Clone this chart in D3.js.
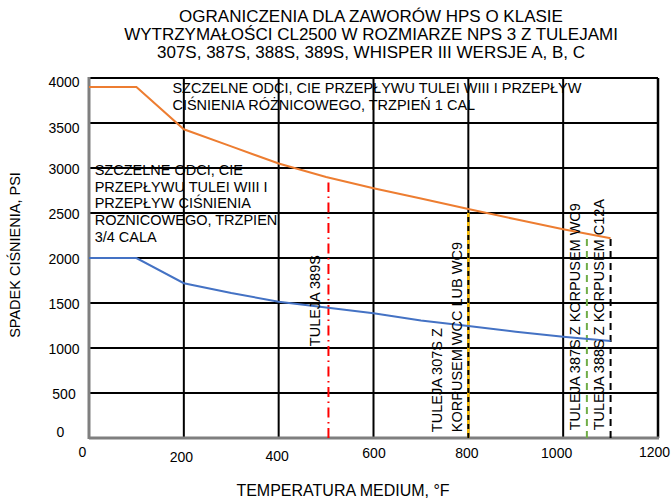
<!DOCTYPE html>
<html>
<head>
<meta charset="utf-8">
<script src="https://cdn.jsdelivr.net/npm/d3@7"></script>
<style>
  body { margin: 0; background: #fff; }
  text { font-family: "Liberation Sans", Arial, sans-serif; fill: #000; }
</style>
</head>
<body>
<script>
// chart values
var temps = [0, 100, 200, 300, 400, 500, 600, 700, 800, 900, 1000, 1100];
var trimOneInch = [3900, 3900, 3430, 3240, 3050, 2900, 2775, 2660, 2545, 2430, 2320, 2220];
var trimThreeQuarter = [2000, 2000, 1720, 1610, 1515, 1450, 1385, 1305, 1245, 1180, 1125, 1078];
var limitTemps = [505, 800, 1050, 1100];
var limitTops = [2840, 2510, 2255, 2222];
var xTicks = [0, 200, 400, 600, 800, 1000, 1200];
var yTicks = [0, 500, 1000, 1500, 2000, 2500, 3000, 3500, 4000];

var titleLines = ['OGRANICZENIA DLA ZAWORÓW HPS O KLASIE',
  'WYTRZYMAŁOŚCI CL2500 W ROZMIARZE NPS 3 Z TULEJAMI',
  '307S, 387S, 388S, 389S, WHISPER III WERSJE A, B, C'];
var upperNote = ['SZCZELNE ODCI, CIE PRZEPŁYWU TULEI WIII I PRZEPŁYW',
  'CIŚNIENIA RÓŻNICOWEGO, TRZPIEŃ 1 CAL'];
var lowerNote = ['SZCZELNE ODCI, CIE', 'PRZEPŁYWU TULEI WIII I', 'PRZEPŁYW CIŚNIENIA',
  'RÓŻNICOWEGO, TRZPIEŃ', '3/4 CALA'];
var limitLabels = [['TULEJA 389S'], ['TULEJA 307S Z', 'KORPUSEM WCC LUB WC9'],
  ['TULEJA 387S Z KORPUSEM WC9'], ['TULEJA 388S Z KORPUSEM C12A']];

(function() {
  var width = 671, height = 500;
  var margin = {top: 78, right: 13, bottom: 62, left: 89};

  var svg = d3.select('body').append('svg')
    .attr('width', width)
    .attr('height', height);

  var x = d3.scaleLinear().domain([0, 1200]).range([margin.left, width - margin.right]);
  var y = d3.scaleLinear().domain([0, 4000]).range([height - margin.bottom, margin.top]);

  // title
  svg.append('text')
    .attr('text-anchor', 'middle')
    .style('font-size', '17px')
    .selectAll('tspan')
    .data(titleLines)
    .enter().append('tspan')
      .attr('x', 371)
      .attr('y', function(d, i) { return 22 + i * 18; })
      .text(function(d) { return d; });

  // grid
  svg.append('g').selectAll('line')
    .data(yTicks.slice(1, -1))
    .enter().append('line')
      .attr('x1', x(0)).attr('x2', x(1200))
      .attr('y1', function(d) { return y(d); })
      .attr('y2', function(d) { return y(d); })
      .attr('stroke', '#000').attr('stroke-width', 2);

  svg.append('g').selectAll('line')
    .data(xTicks.slice(1, -1))
    .enter().append('line')
      .attr('y1', y(0)).attr('y2', y(4000))
      .attr('x1', function(d) { return x(d); })
      .attr('x2', function(d) { return x(d); })
      .attr('stroke', '#000').attr('stroke-width', 2);

  // frame: top/right black, left/bottom gray axes
  svg.append('line').attr('x1', x(0)).attr('x2', x(1200)).attr('y1', y(4000)).attr('y2', y(4000))
    .attr('stroke', '#000').attr('stroke-width', 2);
  svg.append('line').attr('x1', x(1200)).attr('x2', x(1200)).attr('y1', y(0)).attr('y2', y(4000))
    .attr('stroke', '#000').attr('stroke-width', 2.5);

  // axes (labels only) - the original labels sit a little unevenly
  var xTickShift = {0: [-7, -1], 200: [-3, 4], 400: [-2, 3], 600: [0, 0], 800: [-2, 0], 1000: [-7, 0], 1200: [-4, -1]};
  var xAxis = svg.append('g')
    .attr('transform', 'translate(0,' + y(0) + ')')
    .call(d3.axisBottom(x).tickValues(xTicks).tickSize(0).tickPadding(10).tickFormat(d3.format('d')));
  xAxis.select('.domain').remove();
  xAxis.selectAll('text')
    .style('font-size', '14px').style('font-family', '"Liberation Sans", Arial, sans-serif')
    .attr('fill', '#000')
    .attr('dx', function(d) { return xTickShift[d][0]; })
    .attr('dy', function(d) { return 10 + xTickShift[d][1]; });

  var yTickShift = {0: [-3.5, -7], 4000: [0, 3], 3500: [0, 4]};
  var yAxis = svg.append('g')
    .attr('transform', 'translate(' + x(0) + ',0)')
    .call(d3.axisLeft(y).tickValues(yTicks).tickSize(0).tickPadding(25).tickFormat(d3.format('d')));
  yAxis.select('.domain').remove();
  yAxis.selectAll('text')
    .style('font-size', '14px').style('font-family', '"Liberation Sans", Arial, sans-serif')
    .attr('fill', '#000')
    .attr('text-anchor', 'middle')
    .attr('dx', function(d) { return yTickShift[d] ? yTickShift[d][0] : 0; })
    .attr('dy', function(d) { return 5 + (yTickShift[d] ? yTickShift[d][1] : 0); });

  svg.append('line').attr('x1', x(0)).attr('x2', x(0)).attr('y1', y(0) + 1).attr('y2', y(4000) - 1)
    .attr('stroke', '#7f7f7f').attr('stroke-width', 3);
  svg.append('line').attr('x1', x(0)).attr('x2', x(1200) + 1).attr('y1', y(0)).attr('y2', y(0))
    .attr('stroke', '#7f7f7f').attr('stroke-width', 3);

  // axis titles
  svg.append('text')
    .attr('transform', 'translate(20,' + 255 + ') rotate(-90)')
    .attr('text-anchor', 'middle')
    .style('font-size', '14.5px')
    .text('SPADEK CIŚNIENIA, PSI');
  svg.append('text')
    .attr('x', 343).attr('y', 496)
    .attr('text-anchor', 'middle')
    .style('font-size', '16px')
    .text('TEMPERATURA MEDIUM, °F');

  // limit lines
  var limitStyles = [
    {color: '#ff0000', dash: '10,4.5,1.5,4.5', width: 2},
    {color: '#ffc000', dash: null, width: 2.5},
    {color: '#70ad47', dash: '7,5', width: 2},
    {color: '#000', dash: '7,5', width: 2}
  ];
  limitTemps.forEach(function(t, i) {
    var s = limitStyles[i];
    svg.append('line')
      .attr('x1', x(t)).attr('x2', x(t))
      .attr('y1', y(0)).attr('y2', y(limitTops[i]))
      .attr('stroke', s.color).attr('stroke-width', s.width)
      .attr('stroke-dasharray', s.dash);
    if (i == 1) {
      // black dashes over the yellow line
      svg.append('line')
        .attr('x1', x(t)).attr('x2', x(t))
        .attr('y1', y(0)).attr('y2', y(limitTops[i]))
        .attr('stroke', '#000').attr('stroke-width', 2)
        .attr('stroke-dasharray', '5,4');
    }
  });

  // curves
  var line = d3.line()
    .x(function(d) { return x(d[0]); })
    .y(function(d) { return y(d[1]); });

  svg.append('path')
    .datum(temps.map(function(t, i) { return [t, trimOneInch[i]]; }))
    .attr('d', line)
    .attr('fill', 'none').attr('stroke', '#ed7d31').attr('stroke-width', 2);
  svg.append('path')
    .datum(temps.map(function(t, i) { return [t, trimThreeQuarter[i]]; }))
    .attr('d', line)
    .attr('fill', 'none').attr('stroke', '#4472c4').attr('stroke-width', 2);

  // notes
  svg.append('text')
    .style('font-size', '14.5px')
    .selectAll('tspan')
    .data(upperNote)
    .enter().append('tspan')
      .attr('x', x(176))
      .attr('y', function(d, i) { return y(3830) + i * 16.5; })
      .text(function(d) { return d; });

  svg.append('text')
    .style('font-size', '14.5px')
    .selectAll('tspan')
    .data(lowerNote)
    .enter().append('tspan')
      .attr('x', x(12))
      .attr('y', function(d, i) { return y(2925) + i * 16.8; })
      .text(function(d) { return d; });

  // vertical labels beside limit lines
  var labelOffsets = [-13, -31, -12, -12];
  var labelStart = [1020, 65, 85, 85];
  limitTemps.forEach(function(t, i) {
    var lines = limitLabels[i];
    var g = svg.append('text')
      .attr('transform', 'translate(' + (x(t) + labelOffsets[i]) + ',' + y(labelStart[i]) + ') rotate(-90)')
      .style('font-size', '14.5px');
    g.selectAll('tspan')
      .data(lines)
      .enter().append('tspan')
        .attr('x', 0)
        .attr('y', function(d, j) { return j * 20; })
        .attr('dominant-baseline', 'central')
        .text(function(d) { return d; });
  });
})();
</script>
</body>
</html>
